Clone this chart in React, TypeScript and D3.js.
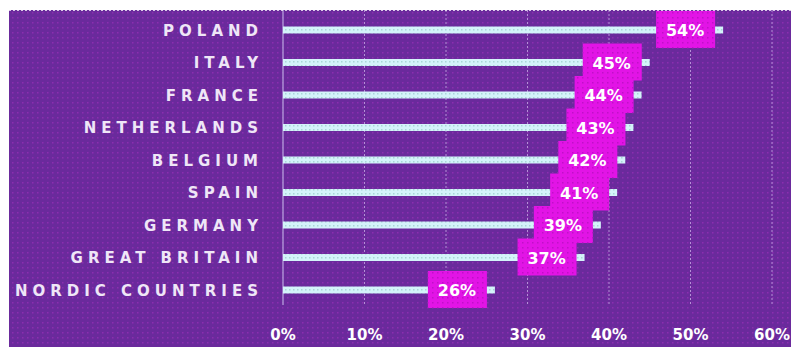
import React from "react";
import * as d3 from "d3";

const categories = ["POLAND", "ITALY", "FRANCE", "NETHERLANDS", "BELGIUM", "SPAIN", "GERMANY", "GREAT BRITAIN", "NORDIC COUNTRIES"];
const values = [54, 45, 44, 43, 42, 41, 39, 37, 26];
const ticks = [0, 10, 20, 30, 40, 50, 60];

const W = 791;
const H = 347;

export default function App() {
  const x = d3.scaleLinear().domain([0, 60]).range([283, 772]);
  const y = d3.scaleBand<string>().domain(categories).range([13.75, 306.25]);
  const bh = 7;
  return (
    <div style={{ position: "absolute", left: 0, top: 0 }}>
      <svg width={W} height={H} style={{ display: "block" }}>
        <defs>
          <pattern id="bgdots" width="5" height="5" patternUnits="userSpaceOnUse">
            <rect width="5" height="5" fill="#6a2a9c" />
            <rect x="2" y="2" width="1.5" height="1.5" fill="#8c2db0" />
          </pattern>
          <pattern id="magdots" width="5" height="5" patternUnits="userSpaceOnUse">
            <rect width="5" height="5" fill="#e214e6" />
            <rect x="2" y="2" width="1.5" height="1.5" fill="#c010c8" />
          </pattern>
          <pattern id="bardots" width="4" height="4" patternUnits="userSpaceOnUse">
            <rect width="4" height="4" fill="#d4f3fa" />
            <rect x="1" y="1" width="1.5" height="1.5" fill="#a9d6d6" />
          </pattern>
          <clipPath id="clip">
            <rect x={9} y={10} width={W - 9} height={337} />
          </clipPath>
        </defs>
        <rect x={0} y={0} width={W} height={H} fill="#ffffff" />
        <g clipPath="url(#clip)">
          <rect x={9} y={10} width={W - 9} height={337} fill="url(#bgdots)" />
          {ticks.slice(1).map((t) => (
            <line key={t} x1={x(t)} x2={x(t)} y1={10} y2={305} stroke="#b58fd6" strokeWidth={1} strokeDasharray="2,2" />
          ))}
          <line x1={x(0)} x2={x(0)} y1={10} y2={305} stroke="#b9a6e0" strokeWidth={1.2} />
          {categories.map((c, i) => {
            const cy = (y(c) as number) + y.bandwidth() / 2;
            const end = x(values[i]);
            return (
              <rect key={c} x={x(0)} y={cy - bh / 2} width={end - x(0)} height={bh} fill="url(#bardots)" />
            );
          })}
          {categories.map((c, i) => {
            const cy = (y(c) as number) + y.bandwidth() / 2;
            const end = x(values[i]);
            return (
              <rect key={c + "lab"} x={end - 67} y={cy - 19} width={59} height={37} fill="url(#magdots)" />
            );
          })}
          {categories.map((c, i) => {
            const cy = (y(c) as number) + y.bandwidth() / 2;
            const end = x(values[i]);
            return (
              <text key={c + "v"} x={end - 38} y={cy + 6} textAnchor="middle" fill="#ffffff" fontFamily="'DejaVu Sans', sans-serif" fontWeight="bold" fontSize={16}>
                {values[i]}%
              </text>
            );
          })}
          {categories.map((c) => {
            const cy = (y(c) as number) + y.bandwidth() / 2;
            return (
              <text key={c + "c"} x={263} y={cy + 5.5} textAnchor="end" fill="#efe6f7" fontFamily="'DejaVu Sans', sans-serif" fontWeight="bold" fontSize={15} letterSpacing={5}>
                {c}
              </text>
            );
          })}
        </g>
        <line x1={9} x2={W} y1={10} y2={10} stroke="#ffffff" strokeWidth={1.5} strokeDasharray="2,2" />
        {ticks.map((t) => (
          <text key={"t" + t} x={x(t)} y={340} textAnchor="middle" fill="#ffffff" fontFamily="'DejaVu Sans', sans-serif" fontWeight="bold" fontSize={15}>
            {t}%
          </text>
        ))}
      </svg>
    </div>
  );
}
